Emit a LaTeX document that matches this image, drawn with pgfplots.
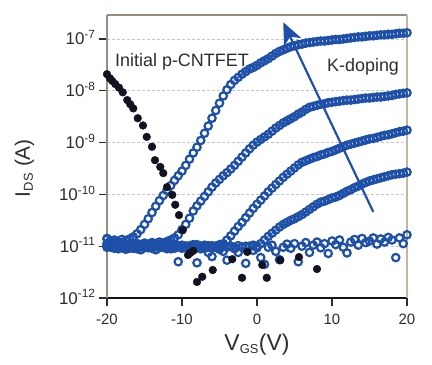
\documentclass[border=0pt]{standalone}
\usepackage{fontspec}
\setmainfont{Liberation Sans}
\usepackage{pgfplots}
\usepackage{pgfplotstable}
\pgfplotsset{compat=1.18}
\usetikzlibrary{arrows.meta}
\definecolor{kblue}{RGB}{30,80,170}
\definecolor{kdark}{RGB}{18,18,32}
\definecolor{frameL}{RGB}{150,140,128}
\definecolor{frameR}{RGB}{196,182,160}
\definecolor{txt}{RGB}{45,45,45}

% log10 of I_DS (A) versus V_GS (V)
\pgfplotstableread{
x A B C D E
-20 -10.86 -10.95 -10.98 -11.02 -10.85
-19.5 -10.90 -10.98 -11.01 -10.97 -11.02
-19 -10.88 -10.93 -10.96 -11.04 -10.97
-18.5 -10.92 -10.97 -11.00 -10.99 -11.05
-18 -10.87 -10.95 -10.97 -11.03 -10.93
-17.5 -10.90 -11.00 -11.02 -10.98 -11.06
-17 -10.86 -10.96 -10.99 -11.04 -10.99
-16.5 -10.82 -10.99 -11.03 -11.00 -11.04
-16 -10.76 -10.95 -10.98 -11.05 -10.95
-15.5 -10.68 -10.97 -11.01 -10.99 -11.07
-15 -10.58 -10.94 -10.98 -11.03 -10.98
-14.5 -10.47 -10.96 -11.02 -11.00 -11.03
-14 -10.35 -10.93 -10.99 -11.04 -10.96
-13.5 -10.23 -10.95 -11.01 -10.98 -11.07
-13 -10.12 -10.92 -10.97 -11.03 -10.99
-12.5 -10.02 -10.94 -11.02 -11.00 -11.02
-12 -9.92 -10.91 -10.98 -11.05 -10.94
-11.5 -9.83 -10.88 -11.01 -11.01 -11.05
-11 -9.73 -10.84 -10.97 -11.04 -11.00
-10.5 -9.64 -10.78 -11.00 -10.99 -11.30
-10 -9.55 -10.68 -10.98 -11.03 -11.04
-9.5 -9.44 -10.58 -11.02 -11.00 -11.00
-9 -9.32 -10.46 -10.99 -11.05 -11.08
-8.5 -9.20 -10.32 -11.01 -10.98 -10.97
-8 -9.09 -10.22 -10.97 -11.03 -11.32
-7.5 -8.96 -10.13 -11.00 -11.00 -11.05
-7 -8.82 -10.04 -10.98 -11.04 -11.00
-6.5 -8.68 -9.95 -11.02 -10.99 -11.12
-6 -8.53 -9.86 -10.99 -11.03 -11.20
-5.5 -8.38 -9.78 -11.00 -11.00 -11.02
-5 -8.24 -9.71 -10.97 -11.04 -11.06
-4.5 -8.10 -9.64 -10.95 -10.99 -11.10
-4 -7.98 -9.58 -10.88 -11.02 -11.27
-3.5 -7.88 -9.51 -10.80 -11.00 -11.00
-3 -7.80 -9.44 -10.71 -11.03 -11.05
-2.5 -7.74 -9.36 -10.62 -10.99 -11.12
-2 -7.68 -9.28 -10.54 -11.02 -11.02
-1.5 -7.63 -9.20 -10.45 -11.00 -11.33
-1 -7.58 -9.12 -10.36 -11.01 -11.00
-0.5 -7.55 -9.05 -10.27 -10.98 -11.08
0 -7.51 -8.99 -10.19 -11.00 -11.03
0.5 -7.46 -8.94 -10.11 -10.95 -11.22
1 -7.42 -8.89 -10.03 -10.88 -11.35
1.5 -7.38 -8.84 -9.95 -10.81 -11.02
2 -7.33 -8.78 -9.88 -10.75 -10.98
2.5 -7.28 -8.72 -9.81 -10.69 -11.10
3 -7.24 -8.67 -9.74 -10.63 -11.26
3.5 -7.21 -8.62 -9.67 -10.58 -11.02
4 -7.18 -8.58 -9.61 -10.54 -10.96
4.5 -7.15 -8.54 -9.55 -10.50 -11.04
5 -7.13 -8.50 -9.49 -10.47 -10.95
5.5 -7.11 -8.45 -9.43 -10.43 -11.30
6 -7.10 -8.41 -9.38 -10.39 -11.00
6.5 -7.08 -8.36 -9.35 -10.34 -10.93
7 -7.07 -8.32 -9.32 -10.29 -11.12
7.5 -7.06 -8.30 -9.29 -10.24 -10.98
8 -7.05 -8.28 -9.27 -10.19 -10.92
8.5 -7.04 -8.26 -9.24 -10.15 -11.03
9 -7.04 -8.25 -9.22 -10.13 -10.95
9.5 -7.03 -8.23 -9.19 -10.10 -11.14
10 -7.02 -8.22 -9.17 -10.07 -10.90
10.5 -7.01 -8.21 -9.14 -10.05 -10.97
11 -7.01 -8.20 -9.11 -10.02 -10.88
11.5 -7.00 -8.19 -9.08 -9.98 -11.02
12 -6.99 -8.18 -9.05 -9.94 -11.13
12.5 -6.98 -8.18 -9.03 -9.91 -10.92
13 -6.97 -8.17 -9.01 -9.87 -10.87
13.5 -6.96 -8.16 -8.99 -9.84 -10.98
14 -6.96 -8.15 -8.97 -9.80 -10.85
14.5 -6.95 -8.14 -8.95 -9.77 -10.93
15 -6.94 -8.14 -8.93 -9.74 -10.90
15.5 -6.94 -8.13 -8.92 -9.72 -10.84
16 -6.93 -8.12 -8.90 -9.70 -10.96
16.5 -6.92 -8.12 -8.88 -9.68 -10.86
17 -6.92 -8.11 -8.86 -9.66 -10.92
17.5 -6.91 -8.10 -8.85 -9.64 -10.83
18 -6.91 -8.09 -8.83 -9.62 -10.88
18.5 -6.90 -8.07 -8.81 -9.61 -11.22
19 -6.89 -8.06 -8.79 -9.60 -10.84
19.5 -6.89 -8.05 -8.78 -9.59 -10.95
20 -6.88 -8.04 -8.76 -9.57 -10.78
}\kdoped

\pgfplotstableread{
x y
-20 -7.68
-19.6 -7.76
-19.3 -7.81
-18.9 -7.87
-18.4 -7.94
-17.9 -8.03
-17.3 -8.18
-16.9 -8.26
-16.5 -8.34
-15.9 -8.53
-15.2 -8.67
-14.7 -8.89
-14.0 -9.08
-13.6 -9.34
-12.9 -9.47
-12.5 -9.59
-12.0 -9.86
-11.3 -10.01
-10.9 -10.20
-10.4 -10.40
-9.9 -10.69
-9.2 -11.17
-8.9 -11.13
-8.5 -11.09
-8.0 -11.69
-7.3 -11.59
-5.9 -11.46
-3.3 -11.25
-2.0 -11.61
-1.3 -11.11
0.7 -11.36
1.3 -11.61
3.1 -11.27
5.6 -11.21
8.0 -11.44
}\initial

\begin{document}
\begin{tikzpicture}
\path (-107bp,-67bp) rectangle (325bp,298bp);
\begin{axis}[
  at={(0,0)}, anchor=south west,
  scale only axis, width=300bp, height=283bp,
  xmin=-20, xmax=20,
  ymode=log, ymin=1e-12, ymax=2.9e-7,
  xtick={-20,-10,0,10,20},
  ytick={1e-12,1e-11,1e-10,1e-9,1e-8,1e-7},
  yticklabels={10\textsuperscript{-12},10\textsuperscript{-11},10\textsuperscript{-10},10\textsuperscript{-9},10\textsuperscript{-8},10\textsuperscript{-7}},
  yminorticks=false,
  tick align=outside,
  major tick length=8bp,
  tick style={txt, line width=1.1pt},
  axis x line*=bottom, axis y line*=left,
  x axis line style={kdark, line width=1.3pt},
  y axis line style={frameL, line width=1.2pt},
  ymajorgrids,
  grid style={densely dashed, gray!45, line width=0.7pt},
  xticklabel style={font=\fontsize{15}{15}\selectfont, text=txt, yshift=-5bp},
  yticklabel style={font=\fontsize{17}{17}\selectfont, text=txt, anchor=base east, yshift=-6bp},
  /pgf/number format/assume math mode=true,
  xlabel={V\textsubscript{\fontsize{13}{13}\selectfont GS}(V)},
  xlabel style={font=\fontsize{23}{23}\selectfont, text=txt, at={(axis description cs:0.5,-0.184)}, anchor=base},
  ylabel={I\textsubscript{\fontsize{13}{13}\selectfont DS} (A)},
  ylabel style={font=\fontsize{21}{21}\selectfont, text=txt, at={(axis description cs:-0.257,0.459)}, anchor=base},
  clip=false,
]
\draw[frameL, line width=1.3pt] (rel axis cs:0,1) -- (rel axis cs:1,1);
\draw[frameR, line width=1.6pt] (rel axis cs:1,1) -- (rel axis cs:1,0);

\foreach \c in {E,D,C,B,A}{
  \addplot[only marks, mark=o, mark size=3.7pt, kblue, mark options={line width=2.2pt}]
    table[x=x, y expr={10^(\thisrow{\c})}] {\kdoped};
}
\addplot[only marks, mark=*, mark size=3.9pt, kdark, mark options={fill=kdark}]
  table[x=x, y expr={10^(\thisrow{y})}] {\initial};

\draw[kblue, line width=2.2pt, -{Stealth[length=22bp, width=19bp, inset=6bp]}]
  (axis cs:15.5,4.6e-11) -- (axis cs:3.5,2.1e-7);

\node[anchor=base west, inner sep=0pt, text=txt, font=\fontsize{18}{18}\selectfont]
  at (axis cs:-18.93,2.9e-8) {Initial p-CNTFET};
\node[anchor=base west, inner sep=0pt, text=txt, font=\fontsize{18}{18}\selectfont]
  at (axis cs:9.33,2.31e-8) {K-doping};
\end{axis}
\end{tikzpicture}
\end{document}
